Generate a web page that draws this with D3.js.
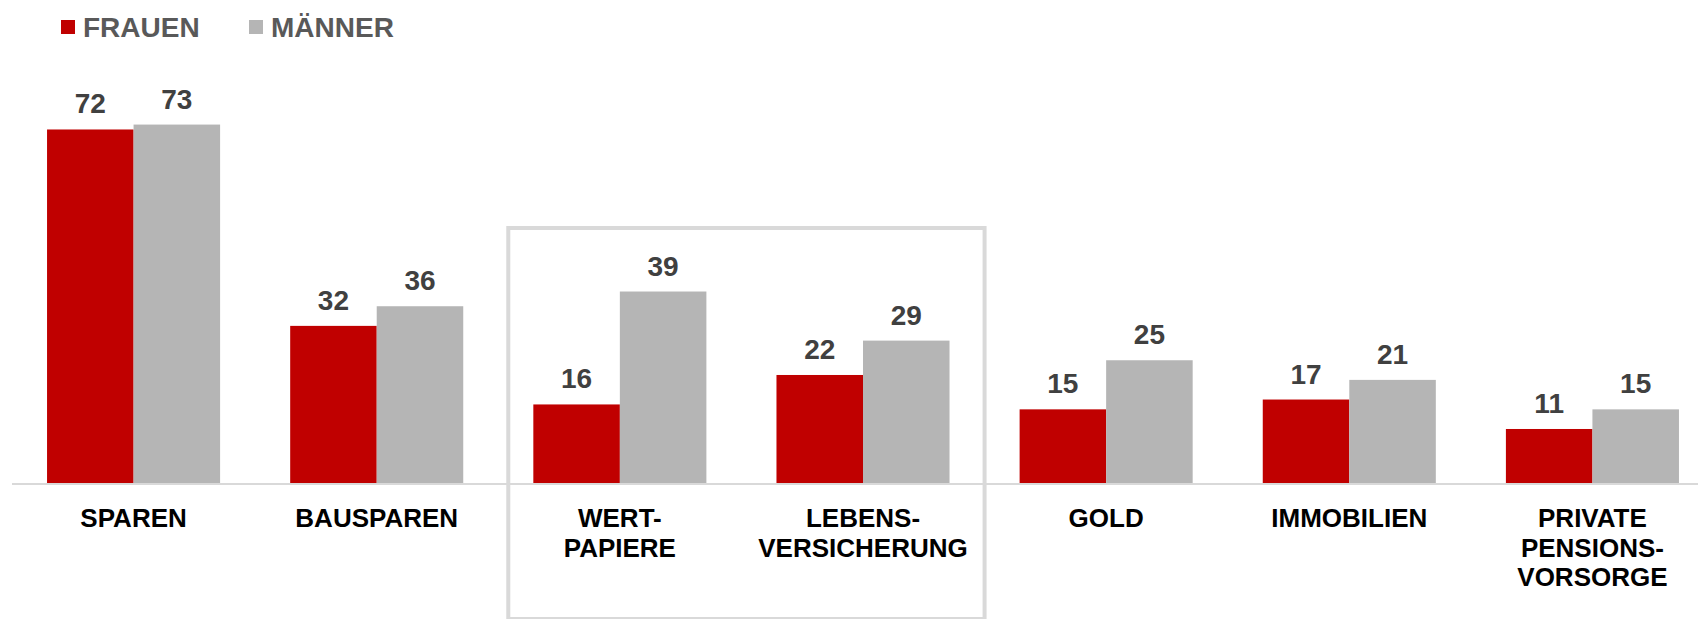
<!DOCTYPE html>
<html>
<head>
<meta charset="utf-8">
<script src="https://cdn.jsdelivr.net/npm/d3@7"></script>
<style>
  body { margin: 0; background: #fff; }
  svg { display: block; font-family: "Liberation Sans", Arial, sans-serif; }
</style>
</head>
<body>
<div id="vis"></div>
<script>
const width = 1698, height = 619;

// data
const categories = ["SPAREN", "BAUSPAREN", "WERT-\nPAPIERE", "LEBENS-\nVERSICHERUNG", "GOLD", "IMMOBILIEN", "PRIVATE\nPENSIONS-\nVORSORGE"];
const seriesNames = ["FRAUEN", "MÄNNER"];
const frauen = [72, 32, 16, 22, 15, 17, 11];
const maenner = [73, 36, 39, 29, 25, 21, 15];
const highlighted = [2, 3]; // categories inside the grey box

const colors = ["#C00000", "#B5B5B5"];

const svg = d3.select("#vis")
    .append("svg")
    .attr("width", width)
    .attr("height", height);

const x0 = d3.scaleBand()
    .domain(d3.range(categories.length))
    .range([12, 1714])
    .paddingInner(0)
    .paddingOuter(0);

const x1 = d3.scaleBand()
    .domain(seriesNames)
    .range([0, x0.bandwidth()])
    .paddingInner(0)
    .paddingOuter(0.405);

const y = d3.scaleLinear()
    .domain([0, 100])
    .range([483, -8]);

const color = d3.scaleOrdinal(seriesNames, colors);

const rows = categories.map((c, i) => ({ i: i, cat: c, values: [frauen[i], maenner[i]] }));

// highlight box around WERTPAPIERE and LEBENSVERSICHERUNG
const boxLeft = x0(highlighted[0]) + 10;
const boxRight = x0(highlighted[highlighted.length - 1]) + x0.bandwidth();
svg.append("rect")
    .attr("x", boxLeft)
    .attr("y", 228)
    .attr("width", boxRight - boxLeft)
    .attr("height", 391)
    .attr("fill", "none")
    .attr("stroke", "#D9D9D9")
    .attr("stroke-width", 4);

// baseline
svg.append("line")
    .attr("x1", 12)
    .attr("x2", width)
    .attr("y1", y(0) + 1)
    .attr("y2", y(0) + 1)
    .attr("stroke", "#D9D9D9")
    .attr("stroke-width", 2);

const groups = svg.selectAll("g.cat")
    .data(rows)
    .join("g")
    .attr("class", "cat")
    .attr("transform", d => `translate(${x0(d.i)},0)`);

const bars = groups.selectAll("g.bar")
    .data(d => d.values.map((v, k) => ({ key: seriesNames[k], value: v })))
    .join("g")
    .attr("class", "bar");

bars.append("rect")
    .attr("x", d => x1(d.key))
    .attr("y", d => y(d.value))
    .attr("width", x1.bandwidth())
    .attr("height", d => y(0) - y(d.value))
    .attr("fill", d => color(d.key));

bars.append("text")
    .attr("x", d => x1(d.key) + x1.bandwidth() / 2)
    .attr("y", d => y(d.value) - 16)
    .attr("text-anchor", "middle")
    .style("font-size", "28px")
    .style("font-weight", "bold")
    .style("fill", "#404040")
    .text(d => d.value);

// category labels
groups.append("text")
    .attr("text-anchor", "middle")
    .attr("transform", `translate(${x0.bandwidth() / 2},527)`)
    .style("font-size", "26px")
    .style("font-weight", "bold")
    .style("fill", "#000")
    .selectAll("tspan")
    .data(d => d.cat.split("\n"))
    .join("tspan")
    .attr("x", 0)
    .attr("y", (d, k) => k * 29.5)
    .text(d => d);

// legend
const legendX = [61, 249];
const legend = svg.selectAll("g.legend")
    .data(seriesNames)
    .join("g")
    .attr("class", "legend")
    .attr("transform", (d, k) => `translate(${legendX[k]},0)`);

legend.append("rect")
    .attr("x", 0)
    .attr("y", 20)
    .attr("width", 14)
    .attr("height", 14)
    .attr("fill", d => color(d));

legend.append("text")
    .attr("x", 22)
    .attr("y", 37)
    .style("font-size", "28px")
    .style("font-weight", "bold")
    .style("fill", "#595959")
    .text(d => d);
</script>
</body>
</html>
